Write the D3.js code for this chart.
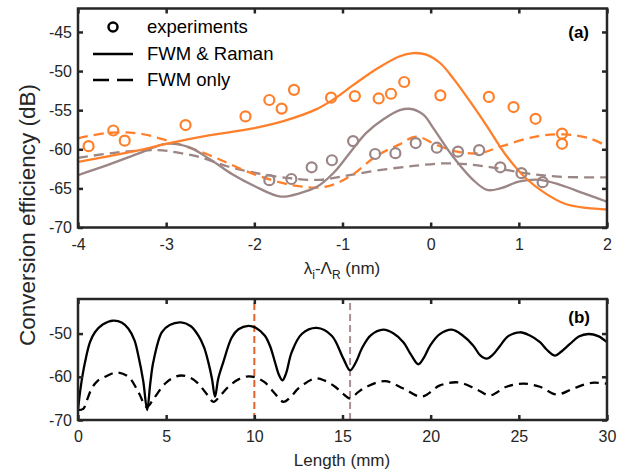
<!DOCTYPE html>
<html>
<head>
<meta charset="utf-8">
<script src="https://cdn.jsdelivr.net/npm/d3@7"></script>
<style>
  body { margin: 0; background: #fff; }
  svg { display: block; }
  text { font-family: "Liberation Sans", Arial, Helvetica, sans-serif; }
</style>
</head>
<body>
<div id="chart"></div>
<script>
// panel (a): conversion efficiency vs detuning (nm), [x, dB]
const ramanOrange = [[-4,-61.6],[-3.66,-60.9],[-3.3,-60.1],[-3.0,-59.3],[-2.5,-58.2],[-2.0,-57.3],[-1.67,-56.4],[-1.3,-54.9],[-1.1,-53.6],[-0.88,-51.8],[-0.61,-49.7],[-0.35,-48.1],[-0.2,-47.7],[-0.05,-47.9],[0.11,-49.0],[0.26,-51.0],[0.41,-53.3],[0.63,-56.9],[0.85,-60.7],[1.08,-63.7],[1.31,-65.7],[1.53,-67.0],[1.77,-67.5],[2.0,-67.7]]
const fwmOrange = [[-4,-58.6],[-3.66,-57.9],[-3.3,-58.0],[-2.9,-59.2],[-2.52,-60.7],[-2.0,-63.2],[-1.56,-64.6],[-1.2,-64.8],[-0.92,-63.5],[-0.62,-60.9],[-0.36,-59.4],[-0.16,-58.4],[0.08,-59.5],[0.3,-60.3],[0.55,-60.5],[0.81,-59.6],[1.18,-58.4],[1.52,-58.1],[1.8,-58.6],[2.0,-59.6]]
const ramanGrey = [[-4,-63.3],[-3.66,-62.0],[-3.28,-60.4],[-3.0,-59.3],[-2.75,-59.7],[-2.5,-61.3],[-2.25,-63.2],[-2.0,-64.7],[-1.7,-66.05],[-1.48,-65.6],[-1.29,-64.8],[-1.1,-63.0],[-0.92,-60.5],[-0.73,-57.9],[-0.54,-56.2],[-0.35,-55.0],[-0.22,-54.85],[-0.08,-55.6],[0.03,-57.3],[0.25,-60.9],[0.48,-63.9],[0.64,-65.2],[0.79,-65.0],[1.01,-64.1],[1.24,-63.9],[1.47,-64.55],[1.73,-65.6],[2.0,-66.7]]
const fwmGrey = [[-4,-61.1],[-3.55,-60.4],[-3.1,-60.1],[-2.88,-60.4],[-2.62,-61.0],[-2.3,-62.2],[-2.0,-63.0],[-1.6,-63.7],[-1.25,-63.9],[-0.92,-63.3],[-0.54,-62.6],[-0.17,-62.1],[0.14,-61.8],[0.4,-61.9],[0.69,-62.3],[1.07,-63.05],[1.45,-63.5],[2.0,-63.6]]
const expOrange = [[-3.88,-59.6],[-3.6,-57.6],[-3.47,-58.9],[-2.78,-56.9],[-2.1,-55.8],[-1.83,-53.7],[-1.69,-54.8],[-1.55,-52.4],[-1.13,-53.4],[-0.86,-53.2],[-0.59,-53.5],[-0.45,-52.9],[-0.3,-51.4],[0.11,-53.1],[0.66,-53.3],[0.94,-54.6],[1.19,-56.1],[1.49,-58.0],[1.49,-59.3]]
const expGrey = [[-1.83,-63.95],[-1.58,-63.8],[-1.35,-62.3],[-1.12,-61.4],[-0.88,-58.95],[-0.63,-60.6],[-0.4,-60.5],[-0.17,-59.2],[0.07,-59.8],[0.31,-60.3],[0.55,-60.1],[0.79,-62.3],[1.03,-63.05],[1.27,-64.2]]

// panel (b): conversion efficiency vs length (mm), [L, dB]
const ramanLength = [[0,-67.7],[0.15,-62.5],[0.4,-56.6],[0.68,-52.0],[0.96,-49.7],[1.4,-47.9],[2.0,-47.0],[2.5,-47.5],[2.86,-48.9],[3.2,-51.5],[3.42,-55.1],[3.7,-61],[3.92,-67.7],[4.1,-61.5],[4.27,-56.6],[4.75,-49.7],[5.2,-48.0],[5.84,-47.4],[6.4,-48.3],[6.83,-50.5],[7.15,-53.2],[7.39,-56.6],[7.6,-60.5],[7.77,-64.6],[7.95,-60.5],[8.24,-56.6],[8.72,-50.9],[9.1,-49.0],[9.66,-48.2],[10.1,-48.7],[10.6,-50.5],[10.9,-53.0],[11.17,-56.6],[11.4,-59.6],[11.6,-60.8],[11.8,-59.2],[12.12,-54.3],[12.69,-50.1],[13.54,-48.7],[14.39,-50.5],[15.05,-55.8],[15.43,-58.5],[15.8,-56.3],[16.09,-53.5],[16.6,-50.4],[17.32,-49.1],[17.9,-50.0],[18.45,-52.0],[18.9,-55.0],[19.3,-57.1],[19.6,-55.7],[19.97,-52.8],[20.5,-50.2],[21.2,-49.1],[21.8,-50.4],[22.42,-52.8],[22.8,-55.0],[23.18,-55.8],[23.5,-55.0],[23.94,-52.8],[24.4,-50.6],[25.07,-49.7],[25.6,-50.4],[26.2,-52.0],[26.6,-53.8],[27.06,-55.1],[27.4,-54.2],[27.9,-52.4],[28.4,-50.7],[28.95,-50.1],[29.5,-50.6],[30,-52.0]]
const fwmLength = [[0,-67.7],[0.3,-67.4],[0.5,-65.5],[0.78,-62.7],[1.1,-61.0],[1.53,-60.0],[2.19,-59.0],[2.86,-60.0],[3.42,-63.5],[3.9,-67.0],[4.3,-65.0],[4.93,-61.6],[5.4,-60.2],[5.88,-59.7],[6.4,-60.3],[6.83,-61.6],[7.3,-64.0],[7.68,-65.8],[8.1,-64.2],[8.53,-62.3],[9.1,-60.6],[9.66,-59.9],[10.1,-60.2],[10.6,-61.3],[11.15,-63.8],[11.65,-65.8],[12.1,-64.5],[12.5,-62.7],[13.44,-60.4],[14.0,-60.9],[14.58,-62.3],[15.0,-63.8],[15.43,-65.0],[15.9,-63.5],[16.38,-62.3],[17.41,-61.0],[18.45,-62.7],[19.49,-64.6],[20.53,-62.0],[21.57,-61.3],[22.6,-62.9],[23.37,-64.3],[24.3,-62.3],[25.26,-61.6],[26.2,-62.3],[27.15,-64.1],[28.1,-62.7],[29.13,-61.4],[30,-61.6]]
const markLengths = [10, 15.43]

const xTicksA = [-4, -3, -2, -1, 0, 1, 2]
const yTicksA = [-70, -65, -60, -55, -50, -45]
const xTicksB = [0, 5, 10, 15, 20, 25, 30]
const yTicksB = [-70, -60, -50]

const W = 629, H = 474
const ink = '#262626'
const orange = '#ff7f2a'
const grey = '#9b8585'

const svg = d3.select('#chart').append('svg').attr('width', W).attr('height', H)

const xa = d3.scaleLinear().domain([-4, 2]).range([78, 607])
const ya = d3.scaleLinear().domain([-70, -42]).range([227.5, 8.5])
const xb = d3.scaleLinear().domain([0, 30]).range([78, 607])
const yb = d3.scaleLinear().domain([-70, -42]).range([420, 299])

function clip(id, x, y) {
  svg.append('clipPath').attr('id', id).append('rect')
    .attr('x', x.range()[0]).attr('y', y.range()[1])
    .attr('width', x.range()[1] - x.range()[0])
    .attr('height', y.range()[0] - y.range()[1])
}
clip('clipA', xa, ya)
clip('clipB', xb, yb)

function curve(g, data, x, y, color, dash) {
  const line = d3.line()
    .x((d) => x(d[0]))
    .y((d) => y(d[1]))
    .curve(d3.curveCatmullRom.alpha(0.5))
  g.append('path')
    .attr('d', line(data))
    .attr('fill', 'none')
    .attr('stroke', color)
    .attr('stroke-width', 2.3)
    .attr('stroke-dasharray', dash || null)
}

function frame(x, y, xTicks, yTicks) {
  const [x0, x1] = x.range(), [y0, y1] = y.range()
  const g = svg.append('g')
  g.append('g').attr('transform', `translate(0,${y0})`)
    .call(d3.axisBottom(x).tickValues(xTicks).tickSize(-5).tickPadding(11).tickFormat((d) => d))
  g.append('g').attr('transform', `translate(0,${y1})`)
    .call(d3.axisTop(x).tickValues(xTicks).tickSize(-5).tickFormat(''))
  g.append('g').attr('transform', `translate(${x0},0)`)
    .call(d3.axisLeft(y).tickValues(yTicks).tickSize(-5).tickPadding(6).tickFormat((d) => d))
  g.append('g').attr('transform', `translate(${x1},0)`)
    .call(d3.axisRight(y).tickValues(yTicks).tickSize(-5).tickFormat(''))
  g.selectAll('.domain').remove()
  g.selectAll('.tick line').attr('stroke', ink).attr('stroke-width', 2.5)
  g.selectAll('.tick text')
    .attr('fill', ink)
    .style('font-size', '16px')
    .style('font-family', '"Liberation Sans", Arial, sans-serif')
  g.append('rect')
    .attr('x', x0).attr('y', y1)
    .attr('width', x1 - x0).attr('height', y0 - y1)
    .attr('fill', 'none').attr('stroke', ink).attr('stroke-width', 2.5)
}

// ---- panel (a)
const ga = svg.append('g').attr('clip-path', 'url(#clipA)')
curve(ga, fwmGrey, xa, ya, grey, '10,6')
curve(ga, fwmOrange, xa, ya, orange, '10,6')
curve(ga, ramanGrey, xa, ya, grey)
curve(ga, ramanOrange, xa, ya, orange)

ga.selectAll('circle.grey').data(expGrey).join('circle')
  .attr('class', 'grey')
  .attr('cx', (d) => xa(d[0])).attr('cy', (d) => ya(d[1])).attr('r', 5)
  .attr('fill', 'none').attr('stroke', grey).attr('stroke-width', 2.2)
ga.selectAll('circle.orange').data(expOrange).join('circle')
  .attr('class', 'orange')
  .attr('cx', (d) => xa(d[0])).attr('cy', (d) => ya(d[1])).attr('r', 5)
  .attr('fill', 'none').attr('stroke', orange).attr('stroke-width', 2.2)

frame(xa, ya, xTicksA, yTicksA)

// legend
const leg = svg.append('g')
leg.append('circle').attr('cx', 113).attr('cy', 27).attr('r', 4.5)
  .attr('fill', 'none').attr('stroke', '#000').attr('stroke-width', 2.5)
leg.append('line').attr('x1', 93).attr('x2', 133).attr('y1', 54).attr('y2', 54)
  .attr('stroke', '#000').attr('stroke-width', 2.5)
leg.append('line').attr('x1', 93).attr('x2', 133).attr('y1', 80).attr('y2', 80)
  .attr('stroke', '#000').attr('stroke-width', 2.5).attr('stroke-dasharray', '16,8')
const legendLabels = ['experiments', 'FWM & Raman', 'FWM only']
leg.selectAll('text').data(legendLabels).join('text')
  .attr('x', 147).attr('y', (d, i) => 33 + i * 26.5)
  .attr('font-size', 18.5).attr('fill', '#000')
  .text((d) => d)

svg.append('text').attr('x', 589).attr('y', 38).attr('text-anchor', 'end')
  .attr('font-size', 17).attr('font-weight', 'bold').attr('fill', '#000').text('(a)')

const xt = svg.append('text').attr('x', 342).attr('y', 274).attr('text-anchor', 'middle')
  .attr('font-size', 17).attr('fill', ink)
xt.append('tspan').text('λ')
xt.append('tspan').attr('font-size', 12).attr('dy', 5).text('i')
xt.append('tspan').attr('dy', -5).text('-Λ')
xt.append('tspan').attr('font-size', 12).attr('dy', 5).text('R')
xt.append('tspan').attr('dy', -5).text(' (nm)')

// ---- panel (b)
const gb = svg.append('g').attr('clip-path', 'url(#clipB)')
const markColors = ['#e2622a', '#a89090']
gb.selectAll('line.mark').data(markLengths).join('line')
  .attr('class', 'mark')
  .attr('x1', (d) => xb(d)).attr('x2', (d) => xb(d))
  .attr('y1', yb(-70)).attr('y2', yb(-42))
  .attr('stroke', (d, i) => markColors[i]).attr('stroke-width', 2)
  .attr('stroke-dasharray', '7,4')
curve(gb, fwmLength, xb, yb, '#000', '9,6')
curve(gb, ramanLength, xb, yb, '#000')

frame(xb, yb, xTicksB, yTicksB)

svg.append('text').attr('x', 590).attr('y', 323).attr('text-anchor', 'end')
  .attr('font-size', 17).attr('font-weight', 'bold').attr('fill', '#000').text('(b)')

svg.append('text').attr('x', 342).attr('y', 466).attr('text-anchor', 'middle')
  .attr('font-size', 17).attr('fill', ink).text('Length (mm)')

svg.append('text')
  .attr('transform', 'translate(35,215) rotate(-90)')
  .attr('text-anchor', 'middle')
  .attr('font-size', 22.5).attr('fill', ink)
  .text('Conversion efficiency (dB)')
</script>
</body>
</html>
